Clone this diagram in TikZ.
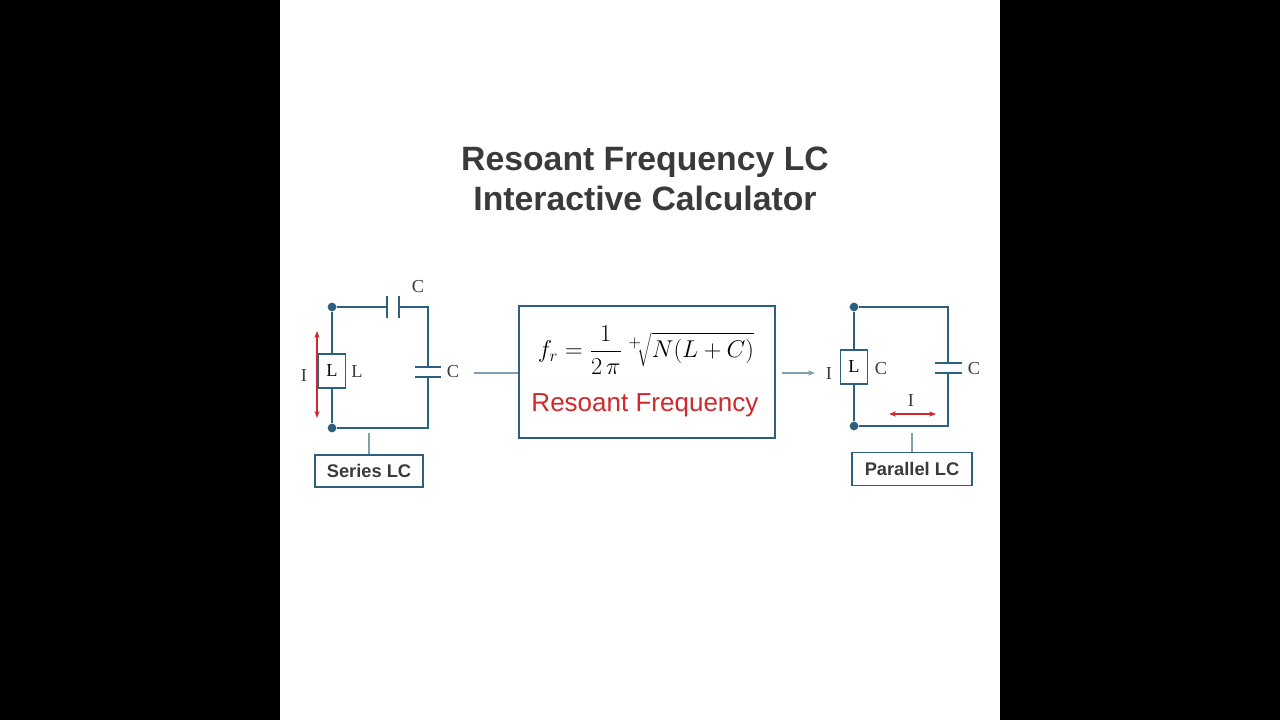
\documentclass[tikz,border=0pt]{standalone}
\usepackage{fontspec}
\setsansfont{Liberation Sans}
\setmainfont{Liberation Serif}
\usetikzlibrary{arrows.meta}
\definecolor{wire}{HTML}{2E5F7F}
\definecolor{accent}{HTML}{D0282C}
\definecolor{ink}{HTML}{3A3A3A}
\newlength{\pxu}\setlength{\pxu}{0.025cm}
\tikzset{
  wire/.style={draw=wire, line width=1.3pt},
  plate/.style={draw=wire, line width=1.6pt},
  dot/.style={circle, fill=wire, inner sep=2.2pt},
  coil/.style={draw=wire, fill=white, line width=1.2pt, minimum width=27\pxu, minimum height=34\pxu, inner sep=0pt, font=\fontsize{13}{13}\selectfont},
  lbl/.style={font=\fontsize{13}{13}\selectfont, text=ink},
  tag/.style={draw=wire, line width=1pt, fill=white, text=ink, font=\sffamily\bfseries\fontsize{13}{13}\selectfont, inner sep=0pt},
  link/.style={draw=wire!60, line width=0.8pt},
  cur/.style={draw=accent, line width=1.1pt, {Stealth[length=5pt]}-{Stealth[length=5pt]}}
}
\begin{document}
\begin{tikzpicture}[x=0.025cm, y=-0.025cm]
\fill[black] (0,0) rectangle (1280,720);
\fill[white] (280,0) rectangle (1000,720);
\useasboundingbox (0,0) rectangle (1280,720);

% title
\node[text=ink, font=\sffamily\bfseries\fontsize{24}{28}\selectfont, align=center] (title) at (645,179) {Resoant Frequency LC\\ Interactive Calculator};

% series LC
\node[dot] (s1) at (332,307) {};
\node[dot] (s2) at (332,428) {};
\coordinate (s3) at (428,307);
\coordinate (s4) at (428,428);
\node[coil, minimum height=34\pxu] (sl) at (332,371) {L};
\draw[wire] (s1) -- (387,307);
\draw[wire] (399,307) -- (s3) -- (428,367);
\draw[wire] (428,377) -- (s4) -- (s2);
\draw[wire] (s1) -- (sl.north) (sl.south) -- (s2);
\draw[plate] (387,296) -- (387,318) (399,296) -- (399,318);
\draw[plate] (415,367) -- (441,367) (415,377) -- (441,377);
\draw[cur] (317,418) -- (317,331);
\node[lbl] at (304,376) {I};
\node[lbl] at (357,372) {L};
\node[lbl] at (418,287) {C};
\node[lbl] at (453,372) {C};
\node[tag, minimum width=108\pxu, minimum height=32\pxu] (stag) at (369,471) {Series LC};
\coordinate (sb) at (369,433);
\draw[link] (sb) -- (stag.north);

% formula box
\node[draw=wire, line width=1.6pt, minimum width=256\pxu, minimum height=132\pxu] (fbox) at (647,372) {};
\node[font=\fontsize{17.5}{17.5}\selectfont] (formula) at (646,350) {$\displaystyle f_r = \frac{1}{2\,\pi}\ {}^{+}\!\sqrt{N(L+C)}$};
\node[text=accent, font=\sffamily\fontsize{18.5}{18.5}\selectfont] (fname) at (645,405) {Resoant Frequency};
\coordinate (cin) at (474,373);
\draw[link] (cin) -- (fbox.west |- cin);
\coordinate (cout) at (815,373);
\draw[link, -{Stealth[length=5pt]}] (fbox.east |- cout) ++(6,0) -- (cout);

% parallel LC
\node[dot] (p1) at (854,307) {};
\node[dot] (p2) at (854,426) {};
\coordinate (p3) at (948,307);
\coordinate (p4) at (948,426);
\node[coil] (pl) at (854,367) {L};
\draw[wire] (p1) -- (p3) -- (948,363);
\draw[wire] (948,373) -- (p4) -- (p2);
\draw[wire] (p1) -- (pl.north) (pl.south) -- (p2);
\draw[plate] (935,363) -- (962,363) (935,373) -- (962,373);
\draw[cur] (889,414) -- (936,414);
\node[lbl] at (829,374) {I};
\node[lbl] at (881,369) {C};
\node[lbl] at (974,369) {C};
\node[lbl] at (911,401) {I};
\node[tag, minimum width=120\pxu, minimum height=33\pxu] (ptag) at (912,469) {Parallel LC};
\coordinate (pb) at (912,433);
\draw[link] (pb) -- (ptag.north);
\end{tikzpicture}
\end{document}
